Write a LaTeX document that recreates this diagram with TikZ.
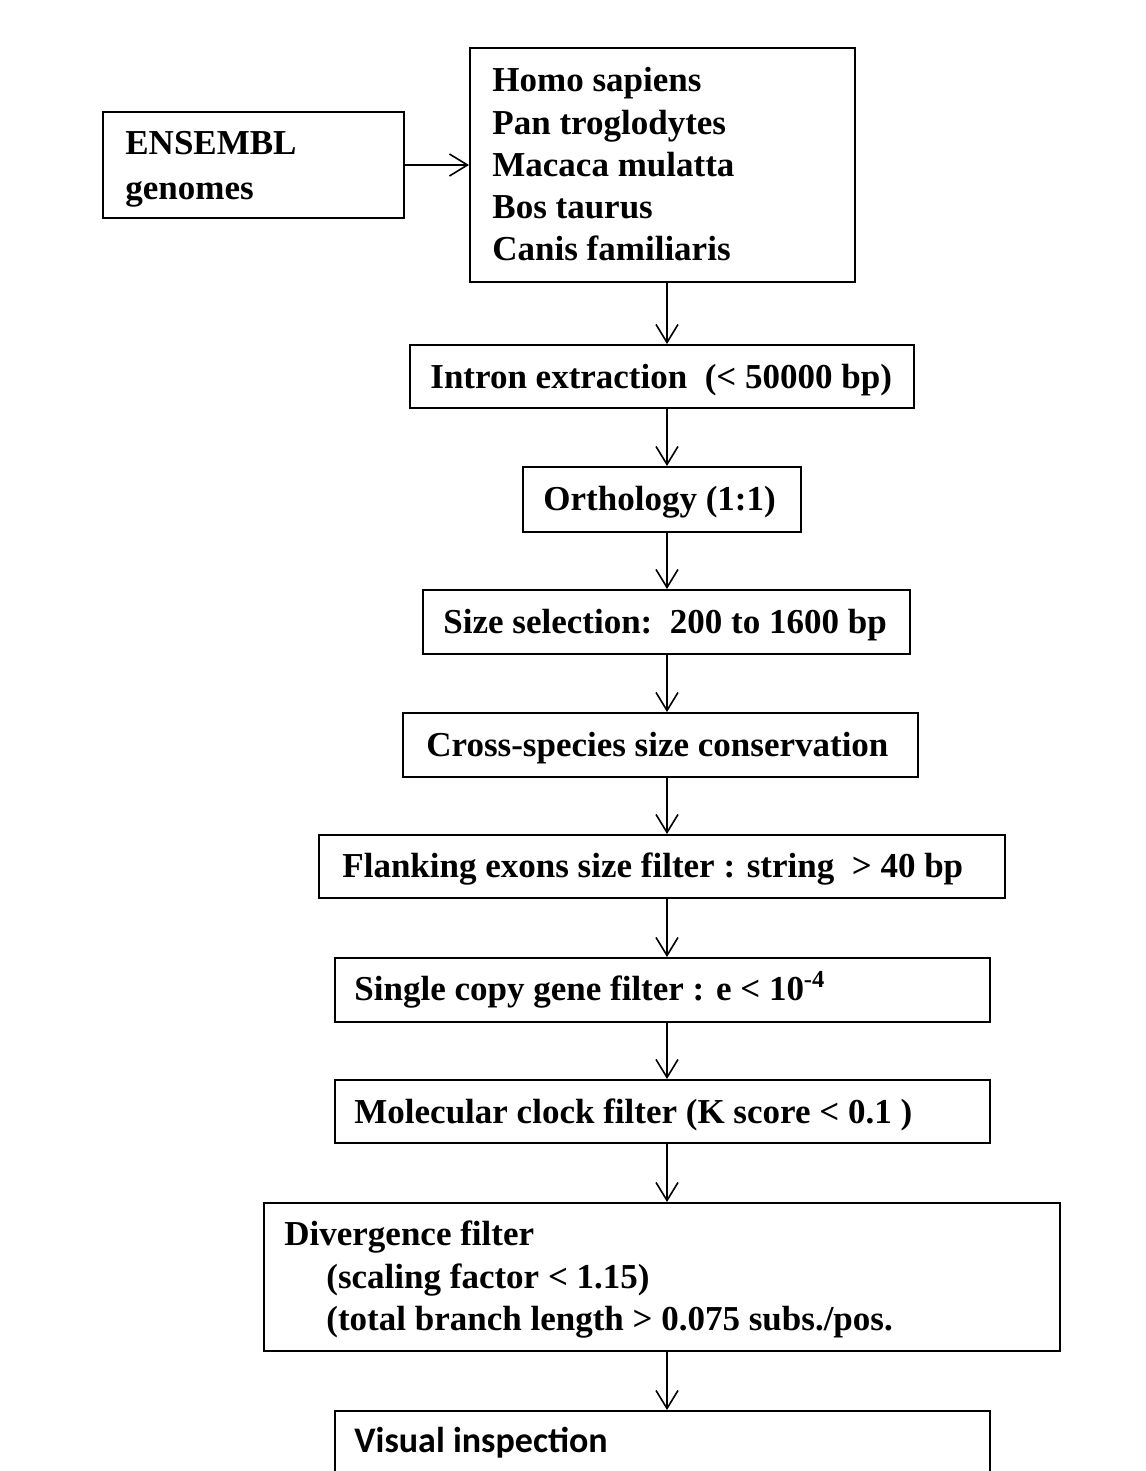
\documentclass[tikz,border=0pt]{standalone}
\usepackage{fontspec}
\setmainfont{Liberation Serif}
\newfontfamily\calfont{Carlito}
\usetikzlibrary{arrows.meta,fit}
\tikzset{
  box/.style={draw, line width=1pt, inner sep=0pt},
  txt/.style={anchor=base west, inner sep=0pt, font=\fontsize{17.5}{20}\selectfont\bfseries},
  caltxt/.style={anchor=base west, inner sep=0pt, font=\fontsize{18}{20}\selectfont\calfont\bfseries},
  arr/.style={line width=1pt, -{Straight Barb[length=9pt,width=11pt,line width=0.8pt]}}
}
\begin{document}
\begin{tikzpicture}[x=0.5pt,y=-0.5pt]
\useasboundingbox (0,0) rectangle (1145,1471);
\clip (0,0) rectangle (1145,1471);
\fill[white] (0,0) rectangle (1145,1471);
% boxes
\node[box, fit={(103,112) (404,218)}] (ens) {};
\node[box, fit={(470,48) (855,282)}] (sp) {};
\node[box, fit={(410,345) (914,408)}] (intron) {};
\node[box, fit={(523,467) (801,532)}] (orth) {};
\node[box, fit={(423,590) (910,654)}] (size) {};
\node[box, fit={(403,713) (918,777)}] (cross) {};
\node[box, fit={(319,835) (1005,898)}] (flank) {};
\node[box, fit={(335,958) (990,1022)}] (single) {};
\node[box, fit={(335,1080) (990,1143)}] (mol) {};
\node[box, fit={(264,1203) (1060,1351)}] (div) {};
\node[box, fit={(335,1411) (990,1510)}] (vis) {};
% texts
\node[txt] (t1) at (125,155) {ENSEMBL};
\node[txt] (t2) at (125,200) {genomes};
\node[txt] (s1) at (492,92) {Homo sapiens};
\node[txt] (s2) at (492,135) {Pan troglodytes};
\node[txt] (s3) at (492,177) {Macaca mulatta};
\node[txt] (s4) at (492,219) {Bos taurus};
\node[txt] (s5) at (492,261) {Canis familiaris};
\node[txt] (ti) at (430,388) {Intron extraction\ \ (< 50000 bp)};
\node[txt] (to) at (543,510) {Orthology (1:1)};
\node[txt] (ts) at (443,633) {Size selection:\ \ 200 to 1600 bp};
\node[txt] (tc) at (426,756) {Cross-species size conservation};
\node[txt] (tf) at (342,877) {Flanking exons size filter : string\ \ > 40 bp};
\node[txt] (tsc) at (354,1000) {Single copy gene filter : e < 10\textsuperscript{-4}};
\node[txt] (tm) at (354,1123) {Molecular clock filter (K score < 0.1 )};
\node[txt] (td1) at (284,1245) {Divergence filter};
\node[txt] (td2) at (326,1288) {(scaling factor < 1.15)};
\node[txt] (td3) at (326,1330) {(total branch length > 0.075 subs./pos.};
\node[caltxt] (tv) at (354,1452) {Visual inspection};
% connectors
\coordinate (ax) at (667,0);
\draw[arr] (ens.east) -- (sp.west |- ens.east);
\draw[arr] (sp.south -| ax) -- (intron.north -| ax);
\draw[arr] (intron.south -| ax) -- (orth.north -| ax);
\draw[arr] (orth.south -| ax) -- (size.north -| ax);
\draw[arr] (size.south -| ax) -- (cross.north -| ax);
\draw[arr] (cross.south -| ax) -- (flank.north -| ax);
\draw[arr] (flank.south -| ax) -- (single.north -| ax);
\draw[arr] (single.south -| ax) -- (mol.north -| ax);
\draw[arr] (mol.south -| ax) -- (div.north -| ax);
\draw[arr] (div.south -| ax) -- (vis.north -| ax);
\end{tikzpicture}
\end{document}
